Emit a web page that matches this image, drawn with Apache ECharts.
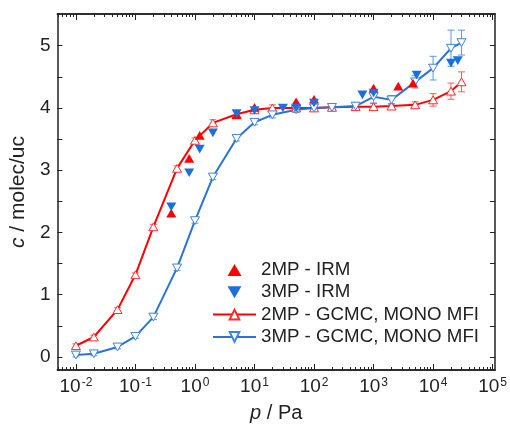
<!DOCTYPE html>
<html>
<head>
<meta charset="utf-8">
<script src="https://cdn.jsdelivr.net/npm/echarts@6/dist/echarts.min.js"></script>
<style>html,body{margin:0;padding:0;background:#fff}#c{width:510px;height:428px}</style>
</head>
<body>
<div id="c"></div>
<script>
// ---- data (pressure in Pa, loading in molec/uc) ----
const pGCMC = [0.01,0.02,0.05,0.1,0.2,0.5,1,2,5,10,20,50,100,200,500,1000,2000,5000,10000,20000,30000];
const c2mpGCMC = [0.18,0.32,0.76,1.32,2.09,3.03,3.48,3.76,3.90,3.97,4.00,4.00,4.00,4.01,4.02,4.02,4.03,4.05,4.13,4.27,4.42];
const e2mpGCMC = [0.03,0.03,0.03,0.03,0.04,0.04,0.04,0.05,0.04,0.03,0.05,0.03,0.03,0.04,0.05,0.05,0.04,0.05,0.10,0.13,0.16];
const c3mpGCMC = [0.03,0.05,0.16,0.33,0.64,1.43,2.19,2.89,3.51,3.77,3.89,3.97,4.00,4.01,4.03,4.18,4.13,4.42,4.64,4.96,5.05];
const e3mpGCMC = [0.03,0.03,0.03,0.03,0.04,0.04,0.04,0.04,0.04,0.04,0.05,0.04,0.05,0.05,0.05,0.10,0.07,0.10,0.19,0.29,0.20];

const p2mpIRM = [0.4,0.8,1.2,5,10,50,100,1000,2600,4600];
const c2mpIRM = [2.31,3.19,3.56,3.89,4.01,4.10,4.14,4.32,4.35,4.40];
const p3mpIRM = [0.4,0.8,1.2,2,5,10,30,50,100,650,1000,5300,20000,26000];
const c3mpIRM = [2.41,2.96,3.34,3.60,3.91,3.96,4.00,4.00,4.08,4.21,4.24,4.53,4.72,4.76];

const xDecades = [-2,-1,0,1,2,3,4,5];
const yMajor = [0,1,2,3,4,5];
const yTicks = [0,0.5,1,1.5,2,2.5,3,3.5,4,4.5,5];
const names = ['2MP - IRM','3MP - IRM','2MP - GCMC, MONO MFI','3MP - GCMC, MONO MFI'];

// ---- helpers ----
const lg = v => Math.log10(v);
const XMIN = -2.31, XMAX = 5.04, YMIN = -0.21, YMAX = 5.51;
const xMinor = [];
for (let n = -3; n <= 5; n++) for (let k = 2; k <= 9; k++) {
  const v = n + Math.log10(k);
  if (v > XMIN && v < XMAX) xMinor.push(v);
}
const pairs = (ps, cs) => ps.map((p, i) => [lg(p), cs[i]]);
const errs = (ps, cs, es) => ps.map((p, i) => [lg(p), cs[i] - es[i], cs[i] + es[i]]);

const RED = '#ff0000', BLUE = '#2a73d9', BLUE_F = '#1d6fdc';
const FONT = 'Liberation Sans, Arial, sans-serif';
const UP = 'path://M5,0L10,8.66L0,8.66Z';
const DOWN = 'path://M0,0L10,0L5,8.66Z';

function errSeries(data, color) {
  return {
    type: 'custom', data: data, z: 1, silent: true,
    encode: { x: 0, y: [1, 2] },
    renderItem: function (params, api) {
      const x = api.value(0), lo = api.value(1), hi = api.value(2);
      const a = api.coord([x, lo]), b = api.coord([x, hi]);
      const w = 3.5, st = { stroke: color, lineWidth: 1 };
      return { type: 'group', children: [
        { type: 'line', shape: { x1: a[0], y1: a[1], x2: b[0], y2: b[1] }, style: st },
        { type: 'line', shape: { x1: a[0]-w, y1: a[1], x2: a[0]+w, y2: a[1] }, style: st },
        { type: 'line', shape: { x1: b[0]-w, y1: b[1], x2: b[0]+w, y2: b[1] }, style: st }
      ]};
    }
  };
}

const axLine = { show: true, onZero: false, lineStyle: { color: '#222', width: 1.5 } };
function xAx(pos, ticks, len, labels) {
  return {
    type: 'value', position: pos, min: XMIN, max: XMAX, scale: true,
    axisLine: axLine, splitLine: { show: false },
    axisTick: { show: true, inside: true, length: len, customValues: ticks, lineStyle: { color: '#222', width: 1 } },
    axisLabel: labels ? {
      show: true, margin: 7, customValues: xDecades, color: '#222',
      formatter: v => '{b|10}{s|' + Math.round(v) + '}',
      rich: {
        b: { fontSize: 19, fontFamily: FONT, color: '#222', verticalAlign: 'bottom' },
        s: { fontSize: 12, fontFamily: FONT, color: '#222', verticalAlign: 'top', padding: [0,0,0,1] }
      }
    } : { show: false }
  };
}
function yAx(pos, labels) {
  return {
    type: 'value', position: pos, min: YMIN, max: YMAX,
    axisLine: axLine, splitLine: { show: false },
    axisTick: { show: true, inside: true, length: 5, customValues: yTicks, lineStyle: { color: '#222', width: 1 } },
    axisLabel: labels ? { show: true, margin: 7, customValues: yMajor, fontSize: 19, fontFamily: FONT, color: '#222' } : { show: false }
  };
}

const xA = [xAx('bottom', xDecades, 6, true), xAx('bottom', xMinor, 3, false), xAx('top', xDecades, 6, false), xAx('top', xMinor, 3, false)];
xA[0].name = '{i|p} / Pa';
xA[0].nameLocation = 'middle';
xA[0].nameGap = 33;
xA[0].nameTextStyle = { fontSize: 20, fontFamily: FONT, color: '#222', rich: { i: { fontSize: 20, fontFamily: FONT, fontStyle: 'italic', color: '#222' } } };
const yA = [yAx('left', true), yAx('right', false)];
yA[0].name = '{i|c} / molec/uc';
yA[0].nameLocation = 'middle';
yA[0].nameGap = 20;
yA[0].nameTextStyle = { fontSize: 21, fontFamily: FONT, color: '#222', rich: { i: { fontSize: 21, fontFamily: FONT, fontStyle: 'italic', color: '#222' } } };

const option = {
  animation: false,
  backgroundColor: '#fff',
  grid: { left: 54, right: 10, top: 14, bottom: 58, containLabel: false },
  xAxis: xA,
  yAxis: yA,
  legend: {
    data: [
      { name: names[0], icon: UP },
      { name: names[1], icon: DOWN },
      { name: names[2] },
      { name: names[3] }
    ],
    orient: 'vertical', left: 212, top: 259, padding: 0,
    itemWidth: 43, itemHeight: 12, itemGap: 0.3, symbolKeepAspect: true,
    textStyle: { fontSize: 18.7, lineHeight: 22, fontFamily: FONT, color: '#222' }
  },
  series: [
    errSeries(errs(pGCMC, c2mpGCMC, e2mpGCMC), '#ff5a5a'),
    errSeries(errs(pGCMC, c3mpGCMC, e3mpGCMC), '#5d98e6'),
    {
      name: names[2], type: 'line', data: pairs(pGCMC, c2mpGCMC), z: 3,
      symbol: UP, symbolSize: 9, symbolKeepAspect: true, showAllSymbol: true,
      lineStyle: { color: RED, width: 2 }, itemStyle: { color: '#fff', borderColor: '#ff2a2a', borderWidth: 1 }
    },
    {
      name: names[3], type: 'line', data: pairs(pGCMC, c3mpGCMC), z: 3,
      symbol: DOWN, symbolSize: 9, symbolKeepAspect: true, showAllSymbol: true,
      lineStyle: { color: BLUE, width: 2 }, itemStyle: { color: '#fff', borderColor: '#3d82e0', borderWidth: 1 }
    },
    {
      name: names[0], type: 'scatter', data: pairs(p2mpIRM, c2mpIRM), z: 4,
      symbol: UP, symbolSize: 10, symbolKeepAspect: true, itemStyle: { color: RED, opacity: 1 }
    },
    {
      name: names[1], type: 'scatter', data: pairs(p3mpIRM, c3mpIRM), z: 5,
      symbol: DOWN, symbolSize: 10, symbolKeepAspect: true, itemStyle: { color: BLUE_F, opacity: 1 }
    }
  ]
};
const chart = echarts.init(document.getElementById('c'), null, { renderer: 'canvas' });
chart.setOption(option);
</script>
</body>
</html>
